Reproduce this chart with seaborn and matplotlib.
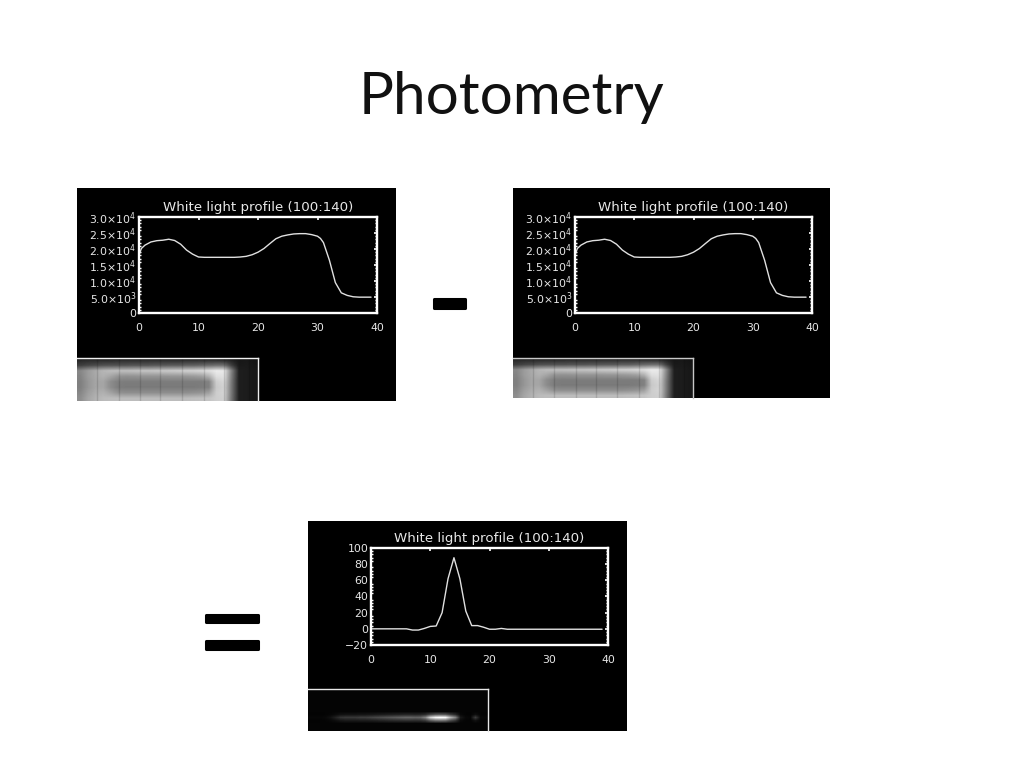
# -*- coding: utf-8 -*-
import numpy as np
import seaborn as sns
import matplotlib.pyplot as plt
import matplotlib.patheffects as pe
from matplotlib.ticker import FixedLocator

W, H = 1024, 768

#White light profile of the two frames (same curve on both)
frame_x = [0, 0.4, 1, 2, 3, 4, 5, 6, 7, 8, 9, 10, 11, 12, 13, 14, 15, 16, 17, 18, 19, 20,
           21, 22, 23, 24, 25, 26, 27, 28, 29, 30, 30.5, 31, 32, 33, 34, 35, 36, 37, 38, 39]
frame_y = [18100, 20160, 21200, 22200, 22600, 22750, 23050, 22650, 21500, 19650, 18400, 17500,
           17400, 17400, 17400, 17400, 17400, 17400, 17500, 17700, 18200, 19000,
           20150, 21700, 23200, 24000, 24400, 24700, 24800, 24800, 24500, 24000, 23300,
           22000, 16500, 9500, 6300, 5500, 5070, 4950, 4950, 4950]
frame_ticks = [0, 5000, 10000, 15000, 20000, 25000, 30000]
frame_labels = ['0', r'5.0$\times$10$^{3}$', r'1.0$\times$10$^{4}$', r'1.5$\times$10$^{4}$',
                r'2.0$\times$10$^{4}$', r'2.5$\times$10$^{4}$', r'3.0$\times$10$^{4}$']

#Difference profile
diff_x = list(range(40))
diff_y = [0, 0, 0, 0, 0, 0, 0, -1.5, -1.5, 0.5, 3, 3.5, 20, 62, 88, 62, 22, 4, 4, 2,
          -0.5, -0.5, 0.5, -0.5, -0.5, -0.5, -0.5, -0.5, -0.5, -0.5, -0.5, -0.5, -0.5,
          -0.5, -0.5, -0.5, -0.5, -0.5, -0.5, -0.5]
diff_ticks = [-20, 0, 20, 40, 60, 80, 100]
diff_labels = ['\u221220', '0', '20', '40', '60', '80', '100']

x_ticks = [0, 10, 20, 30, 40]
title_text = 'White light profile (100:140)'

#Frame thumbnail, grey levels read by eye, top to bottom
frame_rows = [
    [38, 40, 40, 40, 40, 42, 42, 42, 42, 42, 42, 42, 42, 42, 42, 42, 42, 42, 40, 38, 30, 22, 24, 20],
    [62, 70, 75, 80, 82, 82, 82, 85, 85, 85, 88, 88, 90, 90, 95, 95, 100, 105, 110, 110, 62, 25, 26, 22],
    [135, 155, 170, 182, 188, 190, 190, 192, 195, 195, 198, 200, 202, 205, 208, 210, 215, 222, 235, 232, 130, 30, 28, 24],
    [132, 155, 168, 176, 165, 148, 145, 146, 148, 148, 148, 148, 150, 150, 152, 155, 160, 178, 222, 225, 125, 30, 28, 24],
    [128, 150, 165, 165, 140, 126, 124, 124, 124, 124, 124, 124, 124, 124, 124, 124, 124, 130, 205, 215, 120, 30, 28, 24],
    [128, 150, 165, 165, 140, 124, 122, 122, 122, 122, 122, 122, 122, 122, 122, 122, 124, 128, 200, 210, 118, 30, 28, 24],
    [135, 158, 172, 176, 162, 145, 142, 142, 142, 142, 142, 142, 142, 142, 142, 145, 148, 160, 205, 212, 118, 30, 28, 24],
    [142, 165, 178, 186, 188, 188, 188, 188, 188, 188, 188, 188, 188, 188, 188, 190, 192, 195, 205, 208, 115, 30, 28, 24],
]
#dark seams of the detector, in thumbnail width fractions
seams = [0.11, 0.23, 0.35, 0.46, 0.58, 0.70, 0.81, 0.95]

#Spectrum thumbnail: three streak rows, the rest is almost black
spec_upper = [3, 3, 3, 4, 6, 10, 16, 18, 18, 18, 20, 20, 22, 24, 26, 28, 30, 32, 34, 36,
              36, 34, 36, 44, 70, 85, 90, 85, 60, 40, 8, 4, 3, 14, 4, 3]
spec_center = [6, 6, 6, 8, 16, 32, 50, 55, 55, 55, 60, 60, 65, 70, 75, 80, 85, 90, 95, 100,
               100, 95, 100, 130, 210, 245, 255, 250, 180, 130, 25, 8, 6, 60, 8, 6]
spec_lower = [3, 3, 4, 5, 8, 14, 22, 26, 26, 26, 28, 28, 30, 32, 36, 38, 42, 44, 46, 48,
              48, 46, 48, 60, 95, 115, 120, 115, 80, 55, 10, 5, 4, 18, 5, 4]


def rect(x0, y0, x1, y1):
    return fig.add_axes([x0 / W, 1 - y1 / H, (x1 - x0) / W, (y1 - y0) / H])


def panel(box, plot_box, thumb_box, x, y, ticks, labels, minor, ylim, thumb, border):
    bg = rect(*box)
    bg.set_facecolor('black')
    bg.set_xticks([])
    bg.set_yticks([])
    for s in bg.spines.values():
        s.set_visible(False)

    ax = rect(*plot_box)
    ax.set_facecolor('black')
    sns.lineplot(x=x, y=y, color='#e0e0e0', linewidth=1.0, ax=ax, errorbar=None, sort=False)
    ax.set_xlim(0, 40)
    ax.set_ylim(*ylim)
    ax.set_xticks(x_ticks)
    ax.set_xticklabels([str(t) for t in x_ticks])
    ax.set_yticks(ticks)
    ax.set_yticklabels(labels)
    ax.yaxis.set_minor_locator(FixedLocator(minor))
    ax.tick_params(axis='both', which='major', direction='in', length=2.5, width=1.2, color='white',
                   labelcolor='#e8e8e8', labelsize=7.8, top=True, right=True)
    ax.tick_params(axis='x', pad=7.5)
    ax.tick_params(axis='y', pad=2)
    ax.tick_params(axis='y', which='minor', direction='in', length=1.5, width=1.0, color='white',
                   left=True, right=True)
    for s in ax.spines.values():
        s.set_color('white')
        s.set_linewidth(1.7)
    ax.set_title(title_text, color='#e8e8e8', fontsize=9.6, pad=4)

    th = rect(*thumb_box)
    th.imshow(thumb, cmap='gray', vmin=0, vmax=255, aspect='auto', interpolation='bilinear',
              extent=(0, 1, 0, 1))
    th.set_xticks([])
    th.set_yticks([])
    th.spines['left'].set_visible(False)
    th.spines['bottom'].set_visible(False)
    th.spines['top'].set_color(border)
    th.spines['right'].set_color(border)
    th.spines['top'].set_linewidth(1.0)
    th.spines['right'].set_linewidth(1.0)
    return th


sns.set_theme(style='white')
plt.rcParams['font.family'] = ['DejaVu Sans']
plt.rcParams['mathtext.default'] = 'regular'

fig = plt.figure(figsize=(W / 100, H / 100), dpi=100, facecolor='white')

frame_img = np.array(frame_rows, dtype=float)
faint = [4] * 36
spec_img = np.array([faint] * 8 + [spec_upper, spec_center, spec_lower] + [faint] * 3, dtype=float)

frame_minor = list(range(0, 30001, 1000))
diff_minor = list(range(-20, 101, 4))

th1 = panel((77, 188, 396, 401), (139, 217, 377, 313), (77, 358, 258, 401),
            frame_x, frame_y, frame_ticks, frame_labels, frame_minor, (0, 30000), frame_img, '#f0f0f0')
th2 = panel((513, 188, 830, 398), (575, 217, 812, 313), (513, 358, 693, 398),
            frame_x, frame_y, frame_ticks, frame_labels, frame_minor, (0, 30000), frame_img, '#c8c8c8')
for th in [th1, th2]:
    th.vlines(seams, 0, 1, color='black', alpha=0.12, linewidth=1.0)

panel((308, 521, 627, 731), (371, 548, 608, 645), (308, 689, 488, 731),
      diff_x, diff_y, diff_ticks, diff_labels, diff_minor, (-20, 100), spec_img, '#e8e8e8')

#Slide title and the operators between the frames
stroke = [pe.withStroke(linewidth=2.2, foreground='black', joinstyle='round')]
fig.text(512 / W, 1 - 97 / H, 'Photometry', family='Lato', fontsize=42, color='#111111',
         ha='center', va='center')
fig.text(449.5 / W, 1 - 306 / H, '-', family='Lato', fontsize=88, color='black',
         ha='center', va='center', path_effects=stroke)
fig.text(232 / W, 1 - 639 / H, '=', family='Liberation Sans', fontsize=76, color='black',
         ha='center', va='center', path_effects=stroke)

fig.savefig('out.png', dpi=100)
